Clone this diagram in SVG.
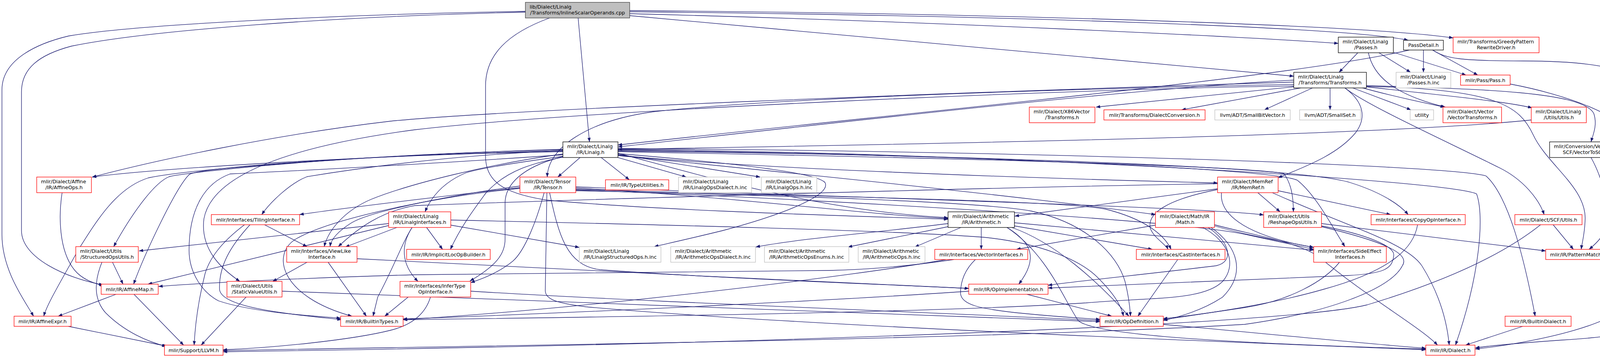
<svg xmlns="http://www.w3.org/2000/svg" width="4245" height="916" viewBox="0 0 4245 916">
<style>
text{font-family:"DejaVu Sans","Liberation Sans",sans-serif;font-size:12.8px;fill:#000}
.m{text-anchor:middle}
.e path{fill:none;stroke:#191970;stroke-width:1.3;marker-end:url(#a)}
.n rect{fill:#fff;stroke-width:1.3}
.r rect{stroke:#ff0000}
.g rect{stroke:#bfbfbf}
.k rect{stroke:#000}
#root rect{fill:#bfbfbf;stroke:#404040}
</style>
<defs>
<marker id="a" viewBox="0 0 11 8" refX="10.5" refY="4" markerWidth="11" markerHeight="8" markerUnits="userSpaceOnUse" orient="auto">
<path d="M0,0 L11,4 L0,8 z" fill="#191970"/>
</marker>
</defs>
<rect width="4245" height="916" fill="#fff"/>
<g id="connectors" class="e">
<path d="M1345,29 C900,36 350,62 176,92 C100,110 5,150 5,230 L5,600 C5,690 60,765 86,809"/>
<path d="M1345,31 C850,42 380,78 183,118 C100,140 55,175 55,235 L55,590 C55,660 170,712 264,729"/>
<path d="M1480,46 L1509,363"/>
<path d="M1407,46 C1300,85 1243,140 1243,220 L1243,400 C1243,465 1290,495 1400,512 C1700,540 2200,553 2427,561"/>
<path d="M1612,40 L3312,195"/>
<path d="M1612,35 C2400,55 3200,95 3426,111"/>
<path d="M1612,30 C2600,40 3450,70 3605,103"/>
<path d="M1612,27 C2600,35 3500,65 3720,97"/>
<path d="M3476,135 L3428,185"/>
<path d="M3530,135 L3611,185"/>
<path d="M3568,134 L3753,192"/>
<path d="M3503,135 C3515,190 3560,240 3700,274"/>
<path d="M3644,128 L3644,185"/>
<path d="M3667,128 L3783,192"/>
<path d="M3608,128 C3300,200 2300,290 1582,371"/>
<path d="M3668,128 C3700,150 3740,156 3900,156 C4100,156 4240,180 4240,280 L4240,790 C4240,850 4150,860 4000,870 C3900,877 3820,884 3777,890"/>
<path d="M3866,215 C4000,240 4189,300 4189,380 L4189,740 C4189,830 3900,880 3777,893"/>
<path d="M3312,205 C2900,225 2000,330 1582,376"/>
<path d="M3312,210 C2400,238 1300,280 1000,310 C700,345 400,410 236,453"/>
<path d="M3312,216 C2700,228 2000,250 1672,286 C1500,310 1402,380 1401,453"/>
<path d="M3312,220 C2800,226 1500,280 1062,332 C700,380 540,460 522,560 C512,640 570,690 614,720"/>
<path d="M3313,222 L2806,274"/>
<path d="M3330,225 L3025,281"/>
<path d="M3360,225 L3237,281"/>
<path d="M3405,225 L3405,281"/>
<path d="M3463,225 L3612,281"/>
<path d="M3485,224 C3560,245 3640,262 3698,274"/>
<path d="M3498,222 C3650,240 3850,258 3922,276"/>
<path d="M3498,219 C3800,228 4050,235 4080,290 C4090,320 4078,345 4073,363"/>
<path d="M3443,225 C3500,270 3700,360 3840,430 C3900,460 3940,510 3953,549"/>
<path d="M3498,221 C3830,228 3890,270 3925,345 C3960,420 4060,480 4058,560 C4057,600 4050,620 4048,638"/>
<path d="M3443,225 C3490,260 3500,300 3470,340 C3420,400 3330,430 3272,455"/>
<path d="M3920,307 C3600,340 2800,362 1582,382"/>
<path d="M4073,403 C4110,470 4115,530 4112,570 C4110,600 4090,620 4068,638"/>
<path d="M1441,388 C1000,395 400,430 236,453"/>
<path d="M1485,403 L1428,453"/>
<path d="M1539,403 L1611,460"/>
<path d="M1582,403 L1757,453"/>
<path d="M1582,395 L1946,453"/>
<path d="M1582,397 C1900,430 2600,455 3117,468"/>
<path d="M1441,400 C1330,415 1230,430 1193,442 C1150,460 1110,490 1088,542"/>
<path d="M1441,402 C1380,415 1300,430 1243,495 C1210,540 1180,580 1153,638"/>
<path d="M1441,385 C1100,400 860,440 786,452 C740,470 690,520 670,549"/>
<path d="M1441,383 C900,395 480,440 433,452 C390,470 330,560 291,631"/>
<path d="M1441,394 C1250,420 1050,470 950,510 C880,540 840,590 830,631"/>
<path d="M1441,386 C900,398 500,430 484,447 C450,480 370,650 342,727"/>
<path d="M1441,382 C1000,395 500,430 380,455 C300,480 250,560 200,640 C150,730 120,780 112,809"/>
<path d="M1441,396 C1100,420 700,440 589,445 C520,470 484,540 484,640 C484,700 520,750 560,770 C650,800 800,808 872,814"/>
<path d="M1441,401 C1360,420 1293,460 1293,520 L1293,612 C1293,650 1270,680 1203,719"/>
<path d="M1582,393 C1850,415 2090,440 2112,467 C2130,500 2000,550 1850,590 C1760,612 1700,625 1675,631"/>
<path d="M1582,392 C1800,450 2100,540 2427,557"/>
<path d="M1582,398 C2000,440 2600,500 2958,549"/>
<path d="M1582,388 C2200,400 3150,420 3287,444 C3305,470 3311,500 3311,542"/>
<path d="M1582,386 C2300,395 3300,420 3456,467 C3530,490 3580,520 3605,549"/>
<path d="M1582,384 C2400,395 3250,430 3321,461 C3370,500 3410,580 3443,631"/>
<path d="M1582,380 C2500,385 3700,420 3804,450 C3860,500 3900,650 3930,809"/>
<path d="M1582,382 C2500,390 3700,460 3780,496 C3800,550 3790,700 3726,883"/>
<path d="M1331,480 C1150,500 900,530 767,549"/>
<path d="M1331,476 C1150,500 950,540 900,570 C860,595 847,615 845,631"/>
<path d="M1393,493 C1375,560 1345,640 1313,668 C1280,695 1240,712 1205,723"/>
<path d="M1407,493 C1430,600 1450,680 1536,690 C1800,710 2200,725 2480,738"/>
<path d="M1400,493 L1396,740 C1394,765 1420,775 1500,785 C2000,830 3000,870 3650,895"/>
<path d="M1474,478 C2000,500 3100,530 3235,550"/>
<path d="M1474,484 C1900,500 2700,510 2830,535 C2930,560 2980,600 2998,638"/>
<path d="M1474,486 C2000,505 3000,560 3190,600 C3280,620 3330,630 3363,638"/>
<path d="M1331,482 C1100,505 850,560 760,610 C690,650 720,760 901,809"/>
<path d="M1474,488 C2000,500 2500,515 2640,540 C2780,570 2860,650 2880,720 C2890,760 2893,790 2894,809"/>
<path d="M1474,481 C1900,505 2200,548 2427,559"/>
<path d="M2427,572 C2200,600 2050,610 1935,632"/>
<path d="M2427,580 L2171,632"/>
<path d="M2460,582 L2342,632"/>
<path d="M2512,582 L2512,638"/>
<path d="M2578,582 C2640,620 2660,660 2608,727"/>
<path d="M2590,582 C2700,620 2810,720 2890,809"/>
<path d="M2578,582 C2680,650 2720,760 2760,820 C2800,860 3200,880 3650,893"/>
<path d="M2597,578 L2950,638"/>
<path d="M2597,570 C2900,600 3200,625 3363,640"/>
<path d="M3117,483 L2598,553"/>
<path d="M3220,493 L3277,542"/>
<path d="M3272,488 L3560,549"/>
<path d="M3257,493 C3450,580 3600,620 3640,680 C3690,760 3705,830 3710,883"/>
<path d="M3117,470 C2500,480 1500,510 1062,526 C980,540 920,580 866,631"/>
<path d="M3117,485 C2990,510 2935,545 2945,585 C2955,610 2985,625 2990,638"/>
<path d="M3127,493 C3122,540 3170,600 3363,633"/>
<path d="M2958,576 L2602,638"/>
<path d="M3093,582 C3150,620 3160,670 3113,680 C2950,700 2750,720 2683,730"/>
<path d="M3100,582 C3170,630 3190,700 3130,760 C3070,800 3000,815 2978,820"/>
<path d="M3079,582 C3150,620 3165,680 3130,720 C3080,770 2950,760 2780,775 C2400,800 1500,812 1032,818"/>
<path d="M3109,575 C3200,600 3330,620 3380,660 C3500,760 3640,840 3680,883"/>
<path d="M3109,578 C3200,605 3300,620 3363,633"/>
<path d="M3383,572 L3957,642"/>
<path d="M3383,578 C3500,600 3570,630 3568,653 C3565,690 3540,700 3450,705 C3100,720 2800,730 2683,737"/>
<path d="M3383,580 C3550,620 3610,650 3590,680 C3560,740 3400,800 3186,830 C2500,870 1200,885 571,897"/>
<path d="M3629,575 C3620,630 3570,690 3389,740 C3250,780 3100,800 2978,818"/>
<path d="M3976,575 L4028,638"/>
<path d="M3944,575 C3850,650 3700,720 3500,780 C3300,830 2000,880 571,900"/>
<path d="M3429,671 C3390,720 3300,770 3186,787 C3100,800 3020,812 2978,815"/>
<path d="M3015,664 L2913,809"/>
<path d="M2442,664 C2300,685 2200,690 2124,692 L1062,703 C800,710 500,725 406,733"/>
<path d="M2422,664 C2200,705 1500,790 1032,818"/>
<path d="M2497,664 C2470,690 2459,720 2459,750 C2460,780 2510,790 2600,800 C2700,810 2780,815 2816,817"/>
<path d="M2629,753 L2846,809"/>
<path d="M2480,745 C2200,765 1500,800 1032,816"/>
<path d="M3898,835 L3752,883"/>
<path d="M2978,830 C3200,850 3500,880 3650,891"/>
<path d="M288,671 L315,727"/>
<path d="M261,671 C245,710 235,760 270,800 C320,850 380,875 425,886"/>
<path d="M159,493 C150,550 150,640 190,690 C210,715 240,725 266,731"/>
<path d="M297,753 L149,809"/>
<path d="M343,753 L470,883"/>
<path d="M175,835 L428,886"/>
<path d="M677,575 L786,631"/>
<path d="M626,575 C580,610 540,650 525,700 C510,760 500,820 497,883"/>
<path d="M640,575 C590,630 560,680 562,740 C565,790 760,805 874,818"/>
<path d="M786,671 L698,720"/>
<path d="M840,671 L938,809"/>
<path d="M914,662 C1300,685 2000,715 2480,738"/>
<path d="M995,572 L356,642"/>
<path d="M995,577 L379,727"/>
<path d="M1016,582 L884,632"/>
<path d="M1092,582 L1133,638"/>
<path d="M1154,576 L1483,633"/>
<path d="M1055,582 C1030,620 1010,680 967,760 L955,809"/>
<path d="M1154,563 C1700,575 2300,590 2517,607 C2650,620 2760,660 2810,710 C2850,750 2870,780 2876,809"/>
<path d="M1055,582 C1027,625 1025,675 1070,720"/>
<path d="M1045,760 L985,809"/>
<path d="M1102,760 C1090,800 1060,830 1000,845 C900,870 700,890 571,895"/>
<path d="M1205,745 C1600,770 2400,800 2816,820"/>
<path d="M722,745 C1200,765 2200,800 2816,823"/>
<path d="M630,760 L515,883"/>
</g>
<g id="root" class="n"><rect x="1345" y="6" width="267" height="40"/><text x="1356" y="22">lib/Dialect/Linalg</text><text class="m" x="1478.5" y="37">/Transforms/InlineScalarOperands.cpp</text></g>
<g id="passes" class="n k"><rect x="3426" y="95" width="141" height="40"/><text x="3437" y="111">mlir/Dialect/Linalg</text><text class="m" x="3496.5" y="126">/Passes.h</text></g>
<g id="passdetail" class="n k"><rect x="3593" y="103" width="102" height="25"/><text class="m" x="3644" y="120">PassDetail.h</text></g>
<g id="greedy" class="n r"><rect x="3720" y="95" width="220" height="40"/><text x="3731" y="111">mlir/Transforms/GreedyPattern</text><text class="m" x="3830" y="126">RewriteDriver.h</text></g>
<g id="transforms" class="n k"><rect x="3312" y="185" width="186" height="40"/><text x="3323" y="201">mlir/Dialect/Linalg</text><text class="m" x="3405" y="216">/Transforms/Transforms.h</text></g>
<g id="passesinc" class="n g"><rect x="3574" y="185" width="140" height="40"/><text x="3585" y="201">mlir/Dialect/Linalg</text><text class="m" x="3644" y="216">/Passes.h.inc</text></g>
<g id="pass" class="n r"><rect x="3739" y="192" width="127" height="26"/><text class="m" x="3802.5" y="209.5">mlir/Pass/Pass.h</text></g>
<g id="x86" class="n r"><rect x="2635" y="274" width="168" height="40"/><text x="2646" y="290">mlir/Dialect/X86Vector</text><text class="m" x="2719" y="305">/Transforms.h</text></g>
<g id="dialectconv" class="n r"><rect x="2826" y="281" width="259" height="26"/><text class="m" x="2955.5" y="298.5">mlir/Transforms/DialectConversion.h</text></g>
<g id="smallbitvector" class="n g"><rect x="3110" y="281" width="193" height="26"/><text class="m" x="3206.5" y="298.5">llvm/ADT/SmallBitVector.h</text></g>
<g id="smallset" class="n g"><rect x="3327" y="281" width="156" height="26"/><text class="m" x="3405" y="298.5">llvm/ADT/SmallSet.h</text></g>
<g id="utility" class="n g"><rect x="3610" y="281" width="60" height="26"/><text class="m" x="3640" y="298.5">utility</text></g>
<g id="vectortransforms" class="n r"><rect x="3694" y="274" width="150" height="40"/><text x="3705" y="290">mlir/Dialect/Vector</text><text class="m" x="3769" y="305">/VectorTransforms.h</text></g>
<g id="linalgutils" class="n r"><rect x="3920" y="274" width="141" height="40"/><text x="3931" y="290">mlir/Dialect/Linalg</text><text class="m" x="3990.5" y="305">/Utils/Utils.h</text></g>
<g id="vectortoscf" class="n k"><rect x="3967" y="363" width="185" height="40"/><text x="3978" y="379">mlir/Conversion/VectorTo</text><text class="m" x="4059.5" y="394">SCF/VectorToSCF.h</text></g>
<g id="linalg" class="n k"><rect x="1441" y="363" width="141" height="40"/><text x="1452" y="379">mlir/Dialect/Linalg</text><text class="m" x="1511.5" y="394">/IR/Linalg.h</text></g>
<g id="affineops" class="n r"><rect x="94" y="453" width="140" height="40"/><text x="105" y="469">mlir/Dialect/Affine</text><text class="m" x="164" y="484">/IR/AffineOps.h</text></g>
<g id="tensor" class="n r"><rect x="1331" y="453" width="143" height="40"/><text x="1342" y="469">mlir/Dialect/Tensor</text><text class="m" x="1402.5" y="484">/IR/Tensor.h</text></g>
<g id="typeutilities" class="n r"><rect x="1550" y="460" width="162" height="26"/><text class="m" x="1631" y="477.5">mlir/IR/TypeUtilities.h</text></g>
<g id="linalgopsdialect" class="n g"><rect x="1737" y="453" width="187" height="40"/><text x="1748" y="469">mlir/Dialect/Linalg</text><text class="m" x="1830.5" y="484">/IR/LinalgOpsDialect.h.inc</text></g>
<g id="linalgops" class="n g"><rect x="1949" y="453" width="142" height="40"/><text x="1960" y="469">mlir/Dialect/Linalg</text><text class="m" x="2020" y="484">/IR/LinalgOps.h.inc</text></g>
<g id="memref" class="n r"><rect x="3117" y="453" width="155" height="40"/><text x="3128" y="469">mlir/Dialect/MemRef</text><text class="m" x="3194.5" y="484">/IR/MemRef.h</text></g>
<g id="tiling" class="n r"><rect x="541" y="549" width="226" height="26"/><text class="m" x="654" y="566.5">mlir/Interfaces/TilingInterface.h</text></g>
<g id="linalginterfaces" class="n r"><rect x="995" y="542" width="159" height="40"/><text x="1006" y="558">mlir/Dialect/Linalg</text><text class="m" x="1074.5" y="573">/IR/LinalgInterfaces.h</text></g>
<g id="arithmetic" class="n k"><rect x="2427" y="542" width="170" height="40"/><text x="2438" y="558">mlir/Dialect/Arithmetic</text><text class="m" x="2512" y="573">/IR/Arithmetic.h</text></g>
<g id="math" class="n r"><rect x="2958" y="542" width="151" height="40"/><text x="2969" y="558">mlir/Dialect/Math/IR</text><text class="m" x="3033.5" y="573">/Math.h</text></g>
<g id="reshape" class="n r"><rect x="3235" y="542" width="148" height="40"/><text x="3246" y="558">mlir/Dialect/Utils</text><text class="m" x="3309" y="573">/ReshapeOpsUtils.h</text></g>
<g id="copyop" class="n r"><rect x="3510" y="549" width="241" height="26"/><text class="m" x="3630.5" y="566.5">mlir/Interfaces/CopyOpInterface.h</text></g>
<g id="scfutils" class="n r"><rect x="3878" y="549" width="172" height="26"/><text class="m" x="3964" y="566.5">mlir/Dialect/SCF/Utils.h</text></g>
<g id="structops" class="n r"><rect x="194" y="631" width="160" height="40"/><text x="205" y="647">mlir/Dialect/Utils</text><text class="m" x="274" y="662">/StructuredOpsUtils.h</text></g>
<g id="viewlike" class="n r"><rect x="734" y="631" width="180" height="40"/><text x="745" y="647">mlir/Interfaces/ViewLike</text><text class="m" x="824" y="662">Interface.h</text></g>
<g id="implicitloc" class="n r"><rect x="1041" y="638" width="214" height="26"/><text class="m" x="1148" y="655.5">mlir/IR/ImplicitLocOpBuilder.h</text></g>
<g id="linalgstructinc" class="n g"><rect x="1483" y="631" width="209" height="40"/><text x="1494" y="647">mlir/Dialect/Linalg</text><text class="m" x="1587.5" y="662">/IR/LinalgStructuredOps.h.inc</text></g>
<g id="arithdialectinc" class="n g"><rect x="1717" y="631" width="217" height="40"/><text x="1728" y="647">mlir/Dialect/Arithmetic</text><text class="m" x="1825.5" y="662">/IR/ArithmeticOpsDialect.h.inc</text></g>
<g id="arithenumsinc" class="n g"><rect x="1957" y="631" width="216" height="40"/><text x="1968" y="647">mlir/Dialect/Arithmetic</text><text class="m" x="2065" y="662">/IR/ArithmeticOpsEnums.h.inc</text></g>
<g id="arithopsinc" class="n g"><rect x="2197" y="631" width="171" height="40"/><text x="2208" y="647">mlir/Dialect/Arithmetic</text><text class="m" x="2282.5" y="662">/IR/ArithmeticOps.h.inc</text></g>
<g id="vectorinterfaces" class="n r"><rect x="2393" y="638" width="238" height="26"/><text class="m" x="2512" y="655.5">mlir/Interfaces/VectorInterfaces.h</text></g>
<g id="castinterfaces" class="n r"><rect x="2909" y="638" width="227" height="26"/><text class="m" x="3022.5" y="655.5">mlir/Interfaces/CastInterfaces.h</text></g>
<g id="sideeffect" class="n r"><rect x="3363" y="631" width="186" height="40"/><text x="3374" y="647">mlir/Interfaces/SideEffect</text><text class="m" x="3456" y="662">Interfaces.h</text></g>
<g id="patternmatch" class="n r"><rect x="3957" y="638" width="166" height="26"/><text class="m" x="4040" y="655.5">mlir/IR/PatternMatch.h</text></g>
<g id="affinemap" class="n r"><rect x="259" y="727" width="146" height="26"/><text class="m" x="332" y="744.5">mlir/IR/AffineMap.h</text></g>
<g id="staticvalue" class="n r"><rect x="581" y="720" width="141" height="40"/><text x="592" y="736">mlir/Dialect/Utils</text><text class="m" x="651.5" y="751">/StaticValueUtils.h</text></g>
<g id="infertype" class="n r"><rect x="1024" y="720" width="181" height="40"/><text x="1035" y="736">mlir/Interfaces/InferType</text><text class="m" x="1114.5" y="751">OpInterface.h</text></g>
<g id="opimpl" class="n r"><rect x="2480" y="727" width="203" height="26"/><text class="m" x="2581.5" y="744.5">mlir/IR/OpImplementation.h</text></g>
<g id="affineexpr" class="n r"><rect x="36" y="809" width="146" height="26"/><text class="m" x="109" y="826.5">mlir/IR/AffineExpr.h</text></g>
<g id="builtintypes" class="n r"><rect x="872" y="809" width="160" height="26"/><text class="m" x="952" y="826.5">mlir/IR/BuiltinTypes.h</text></g>
<g id="opdefinition" class="n r"><rect x="2816" y="809" width="162" height="26"/><text class="m" x="2897" y="826.5">mlir/IR/OpDefinition.h</text></g>
<g id="builtindialect" class="n r"><rect x="3853" y="809" width="169" height="26"/><text class="m" x="3937.5" y="826.5">mlir/IR/BuiltinDialect.h</text></g>
<g id="llvm" class="n r"><rect x="421" y="883" width="150" height="26"/><text class="m" x="496" y="900.5">mlir/Support/LLVM.h</text></g>
<g id="dialect" class="n r"><rect x="3650" y="883" width="126" height="26"/><text class="m" x="3713" y="900.5">mlir/IR/Dialect.h</text></g>
</svg>
